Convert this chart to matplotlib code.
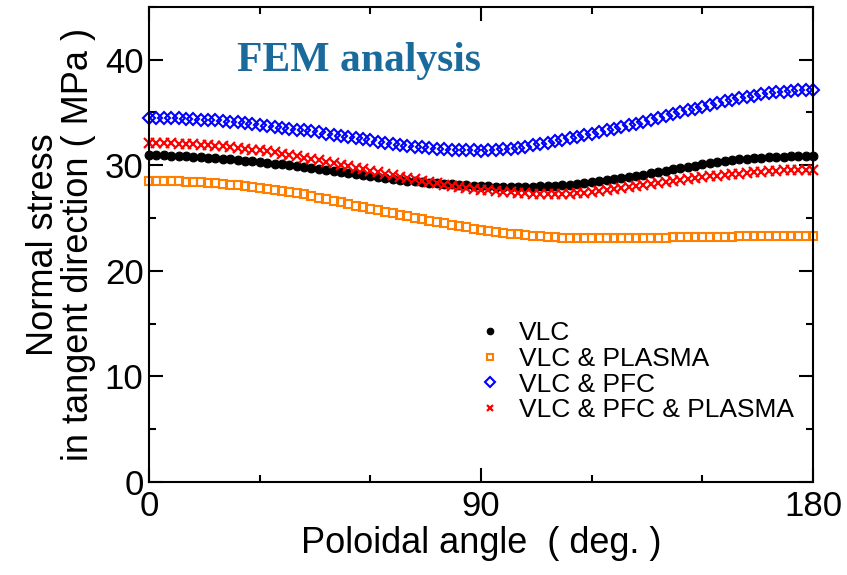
import numpy as np
import matplotlib
matplotlib.use('Agg')
from matplotlib import pyplot as plt
from matplotlib.ticker import MultipleLocator

# poloidal angle, every 2 deg
angle = np.arange(0, 181, 2)

vlc = [30.97, 30.96, 30.94, 30.92, 30.89, 30.86, 30.82, 30.77, 30.72, 30.67,
       30.62, 30.56, 30.50, 30.43, 30.36, 30.29, 30.22, 30.15, 30.08, 30.00,
       29.92, 29.84, 29.75, 29.66, 29.56, 29.46, 29.36, 29.26, 29.16, 29.06,
       28.97, 28.88, 28.79, 28.71, 28.63, 28.55, 28.48, 28.41, 28.35, 28.29,
       28.23, 28.18, 28.13, 28.09, 28.05, 28.02, 28.00, 27.98, 27.97, 27.96,
       27.96, 27.97, 27.98, 28.00, 28.02, 28.05, 28.10, 28.16, 28.23, 28.31,
       28.40, 28.49, 28.59, 28.69, 28.79, 28.90, 29.01, 29.12, 29.24, 29.36,
       29.48, 29.60, 29.72, 29.84, 29.96, 30.07, 30.18, 30.28, 30.38, 30.47,
       30.55, 30.62, 30.68, 30.73, 30.77, 30.80, 30.82, 30.84, 30.85, 30.86,
       30.87]

vlc_plasma = [28.53, 28.52, 28.51, 28.49, 28.47, 28.44, 28.41, 28.37, 28.33, 28.28,
              28.23, 28.17, 28.10, 28.02, 27.94, 27.86, 27.77, 27.68, 27.58, 27.47,
              27.36, 27.25, 27.08, 26.93, 26.78, 26.63, 26.48, 26.33, 26.18, 26.03,
              25.88, 25.73, 25.58, 25.43, 25.29, 25.15, 25.01, 24.88, 24.75, 24.62,
              24.49, 24.36, 24.24, 24.12, 24.00, 23.89, 23.79, 23.69, 23.60, 23.52,
              23.45, 23.38, 23.32, 23.26, 23.21, 23.17, 23.14, 23.12, 23.10, 23.09,
              23.08, 23.08, 23.08, 23.08, 23.09, 23.10, 23.11, 23.12, 23.13, 23.14,
              23.15, 23.16, 23.17, 23.18, 23.19, 23.20, 23.21, 23.22, 23.23, 23.24,
              23.25, 23.26, 23.27, 23.28, 23.28, 23.29, 23.29, 23.30, 23.30, 23.31,
              23.31]

vlc_pfc = [34.49, 34.48, 34.47, 34.45, 34.43, 34.40, 34.37, 34.33, 34.29, 34.24,
           34.18, 34.12, 34.05, 33.98, 33.90, 33.82, 33.74, 33.65, 33.56, 33.47,
           33.38, 33.29, 33.20, 33.10, 33.00, 32.90, 32.79, 32.68, 32.57, 32.46,
           32.35, 32.24, 32.13, 32.03, 31.93, 31.84, 31.76, 31.68, 31.61, 31.55,
           31.50, 31.46, 31.43, 31.41, 31.40, 31.39, 31.41, 31.45, 31.51, 31.58,
           31.67, 31.77, 31.88, 32.00, 32.13, 32.27, 32.41, 32.55, 32.69, 32.84,
           32.99, 33.14, 33.30, 33.46, 33.62, 33.78, 33.94, 34.11, 34.29, 34.47,
           34.65, 34.83, 35.01, 35.19, 35.37, 35.55, 35.73, 35.90, 36.06, 36.21,
           36.35, 36.48, 36.60, 36.71, 36.81, 36.90, 36.98, 37.04, 37.09, 37.13,
           37.15]

vlc_pfc_plasma = [32.11, 32.10, 32.09, 32.07, 32.05, 32.02, 31.98, 31.94, 31.89, 31.84,
                  31.78, 31.71, 31.64, 31.56, 31.48, 31.40, 31.31, 31.22, 31.10, 30.98,
                  30.86, 30.73, 30.60, 30.46, 30.32, 30.18, 30.04, 29.90, 29.76, 29.62,
                  29.48, 29.34, 29.20, 29.06, 28.92, 28.79, 28.66, 28.53, 28.41, 28.29,
                  28.17, 28.06, 27.96, 27.86, 27.77, 27.69, 27.61, 27.54, 27.48, 27.42,
                  27.37, 27.33, 27.30, 27.28, 27.27, 27.27, 27.29, 27.32, 27.36, 27.41,
                  27.47, 27.54, 27.62, 27.71, 27.81, 27.91, 28.02, 28.13, 28.23, 28.33,
                  28.43, 28.52, 28.61, 28.70, 28.78, 28.86, 28.94, 29.01, 29.08, 29.15,
                  29.21, 29.27, 29.33, 29.38, 29.43, 29.47, 29.50, 29.53, 29.55, 29.57,
                  29.58]

plt.rcParams['font.family'] = ['Liberation Sans', 'DejaVu Sans']

fig = plt.figure(figsize=(8.47, 5.75), dpi=100)
ax = fig.add_axes([0.176, 0.162, 0.784, 0.826])

ax.plot(angle, vlc, 'o', color='black', ms=6.3, mew=0.8, label='VLC', clip_on=False)
ax.plot(angle, vlc_plasma, 's', color='#ff8000', mfc='none', ms=6.3, mew=1.5,
        label='VLC & PLASMA', clip_on=False)
ax.plot(angle, vlc_pfc, 'D', color='#0000ff', mfc='none', ms=6.3, mew=1.5,
        label='VLC & PFC', clip_on=False)
ax.plot(angle, vlc_pfc_plasma, 'x', color='#ff0000', ms=6.5, mew=1.6,
        label='VLC & PFC & PLASMA', clip_on=False)

ax.set_xlim(0, 180)
ax.set_ylim(0, 45)
ax.xaxis.set_major_locator(MultipleLocator(90))
ax.xaxis.set_minor_locator(MultipleLocator(30))
ax.yaxis.set_major_locator(MultipleLocator(10))
ax.yaxis.set_minor_locator(MultipleLocator(5))
ax.tick_params(which='both', direction='in', top=True, right=True, width=1.5)
ax.tick_params(which='major', length=10, labelsize=25)
ax.tick_params(which='minor', length=5)
ax.tick_params(axis='x', pad=6)
ax.tick_params(axis='y', pad=4)
for s in ax.spines.values():
    s.set_linewidth(1.5)

ax.set_xlabel('Poloidal angle  ( deg. )', fontsize=26, labelpad=2)
ax.set_ylabel('Normal stress\nin tangent direction ( MPa )', fontsize=26,
              linespacing=1.0, labelpad=6)

ax.text(57, 38.9, 'FEM analysis', family=['Liberation Serif'], weight='bold',
        fontsize=30, color='#1b6a9c', ha='center', va='baseline')

ax.legend(loc='upper left', bbox_to_anchor=(0.477, 0.36), frameon=False,
          fontsize=19, markerscale=0.75, handlelength=1.0, handletextpad=0.6,
          labelspacing=0.06, borderaxespad=0)

plt.savefig('out.png', dpi=100)
